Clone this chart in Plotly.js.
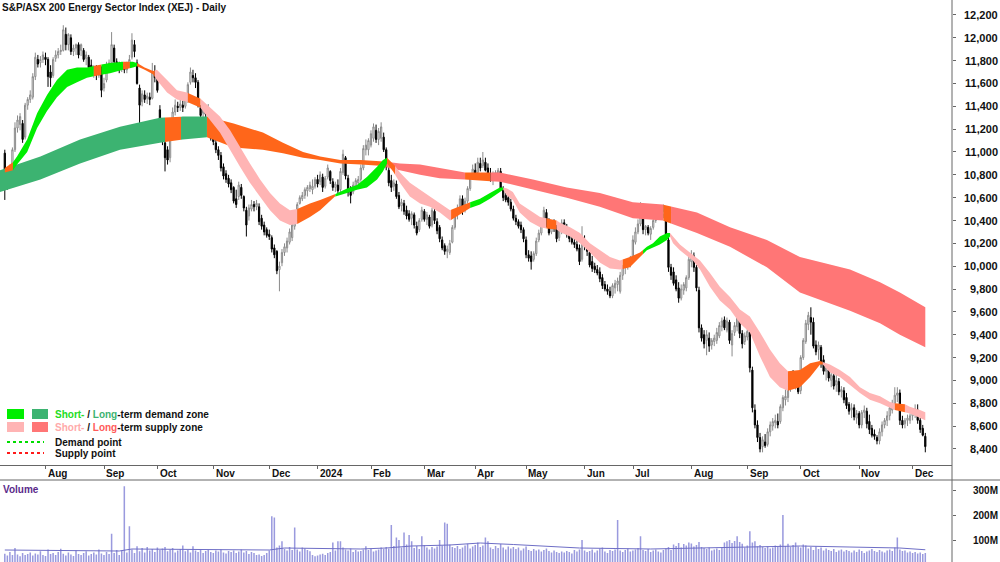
<!DOCTYPE html>
<html><head><meta charset="utf-8">
<script src="https://cdn.plot.ly/plotly-3.0.1.min.js"></script>
<style>html,body{margin:0;padding:0;background:#fff}#chart{width:1000px;height:562px}</style>
</head><body><div id="chart"></div>
<script>
// ---------- DATA ----------
const title = 'S&P/ASX 200 Energy Sector Index (XEJ) - Daily';
const startDate = '2023-07-07';
const holidays = ['2023-12-25','2023-12-26','2024-01-01','2024-01-26','2024-03-29','2024-04-01','2024-04-25','2024-06-10'];
const monthKeys = ['2023-08','2023-09','2023-10','2023-11','2023-12','2024-01','2024-02','2024-03','2024-04','2024-05','2024-06','2024-07','2024-08','2024-09','2024-10','2024-11','2024-12'];
const monthLabels = ['Aug','Sep','Oct','Nov','Dec','2024','Feb','Mar','Apr','May','Jun','Jul','Aug','Sep','Oct','Nov','Dec'];
const priceTicks = [12200,12000,11800,11600,11400,11200,11000,10800,10600,10400,10200,10000,9800,9600,9400,9200,9000,8800,8600,8400];
const volTicks = [100e6,200e6,300e6];
const volTickLabels = ['100M','200M','300M'];

const open = [
10990,10820,10710,10830,11020,11210,11240,11250,11130,11410,
11460,11480,11660,11810,11780,11810,11830,11810,11700,11670,
11820,11850,11880,11890,12030,11940,12000,11880,11910,11940,
11890,11890,11820,11830,11760,11720,11720,11670,11740,11560,
11630,11760,11780,11910,11790,11760,11740,11750,11720,11760,
11830,11940,11780,11560,11440,11500,11470,11480,11470,11700,
11670,11370,11190,11080,11020,10950,11170,11350,11400,11390,
11410,11400,11460,11610,11670,11650,11610,11390,11340,11360,
11330,11300,11180,11080,11020,10970,10870,10810,10770,10730,
10690,10590,10610,10690,10610,10490,10440,10500,10540,10520,
10520,10420,10360,10320,10280,10250,10160,10130,9970,10030,
10120,10160,10210,10250,10350,10400,10550,10590,10620,10660,
10680,10670,10700,10760,10740,10780,10700,10780,10830,10740,
10690,10710,10670,10820,10950,10770,10670,10650,10700,10730,
10760,10860,11020,11020,11060,11120,11190,11110,11120,11130,
11020,10840,10750,10700,10720,10620,10530,10550,10490,10460,
10420,10450,10350,10320,10410,10480,10410,10430,10360,10480,
10390,10340,10230,10180,10130,10120,10210,10340,10450,10510,
10590,10490,10570,10680,10770,10840,10820,10900,10880,10910,
10860,10810,10760,10790,10780,10830,10680,10620,10600,10560,
10500,10420,10390,10360,10320,10230,10100,10090,10060,10110,
10230,10290,10400,10470,10390,10300,10350,10340,10250,10310,
10380,10340,10280,10240,10210,10190,10160,10060,10230,10180,
10120,10040,10000,9970,9950,9900,9840,9800,9780,9740,
9810,9840,9780,9920,9990,10000,10020,10080,10210,10300,
10370,10460,10320,10340,10280,10340,10400,10460,10480,10450,
10430,10230,9990,9950,9880,9810,9720,9790,9810,9900,
10040,10090,9990,9790,9460,9400,9350,9370,9310,9340,
9350,9390,9470,9530,9440,9510,9310,9420,9470,9530,
9410,9340,9380,9420,9090,8740,8610,8500,8420,8460,
8440,8550,8600,8630,8640,8640,8760,8830,8850,8930,
9020,8970,9040,8910,9200,9340,9490,9550,9510,9310,
9270,9290,9180,9080,9090,9000,9040,8960,8990,8900,
8910,8850,8790,8740,8760,8670,8710,8610,8720,8730,
8640,8580,8530,8500,8470,8550,8610,8650,8690,8740,
8800,8870,8890,8650,8620,8650,8650,8690,8710,8740,
8650,8580,8510];
const high = [
11020,10860,10890,11040,11260,11320,11340,11280,11430,11480,
11540,11690,11870,11850,11840,11880,11870,11830,11760,11830,
11890,11910,11940,12110,12090,12040,12030,11940,11950,11960,
11950,11910,11880,11850,11810,11760,11760,11760,11750,11650,
11790,11810,12050,11940,11820,11790,11790,11780,11790,11850,
12040,11980,11810,11590,11540,11540,11520,11520,11780,11760,
11700,11410,11240,11110,11050,11190,11390,11460,11440,11460,
11450,11480,11610,11740,11720,11690,11630,11410,11400,11390,
11420,11320,11210,11110,11050,11000,10900,10840,10800,10760,
10700,10670,10740,10720,10620,10520,10540,10580,10570,10580,
10550,10450,10390,10340,10320,10270,10190,10140,10040,10150,
10200,10250,10330,10390,10460,10560,10620,10650,10690,10710,
10740,10760,10780,10800,10830,10810,10790,10890,10840,10770,
10740,10760,10860,11020,10965,10800,10700,10740,10770,10790,
10890,11060,11110,11120,11190,11250,11240,11210,11260,11170,
11040,10890,10800,10760,10750,10650,10590,10580,10530,10490,
10480,10470,10390,10420,10520,10500,10475,10450,10510,10500,
10420,10360,10260,10200,10180,10230,10360,10480,10540,10620,
10620,10600,10700,10800,10890,10900,10950,10950,11000,10950,
10900,10860,10830,10840,10860,10860,10700,10640,10630,10590,
10530,10450,10410,10390,10340,10260,10140,10130,10130,10250,
10320,10420,10520,10500,10420,10390,10410,10360,10340,10410,
10410,10370,10320,10270,10250,10230,10190,10350,10270,10210,
10140,10090,10030,10010,9990,9930,9870,9840,9820,9850,
9880,9900,9950,10010,10040,10060,10090,10270,10340,10410,
10560,10490,10360,10360,10350,10420,10490,10510,10520,10540,
10470,10260,10020,9990,9920,9860,9840,9860,9920,10100,
10140,10120,10010,9820,9490,9440,9440,9420,9370,9400,
9460,9510,9550,9560,9550,9530,9440,9510,9640,9560,
9440,9420,9460,9450,9120,8790,8650,8540,8510,8530,
8580,8640,8670,8700,8710,8790,8870,8920,8970,9080,
9090,9060,9080,9220,9370,9530,9600,9640,9550,9350,
9340,9310,9220,9140,9130,9080,9080,9050,9020,8950,
8940,8890,8810,8800,8790,8740,8730,8740,8780,8760,
8700,8610,8570,8520,8580,8640,8670,8730,8790,8830,
8940,8940,8920,8690,8670,8700,8710,8740,8790,8790,
8670,8610,8540];
const low = [
10580,10670,10690,10800,11000,11170,11190,11080,11110,11370,
11430,11460,11630,11740,11740,11780,11760,11570,11570,11650,
11790,11820,11850,11880,11890,11890,11850,11840,11850,11820,
11840,11790,11760,11720,11670,11650,11630,11650,11480,11530,
11610,11720,11740,11760,11720,11690,11700,11690,11690,11740,
11810,11830,11590,11220,11400,11430,11420,11410,11460,11610,
11520,11120,11060,10830,10890,10910,11140,11320,11350,11360,
11350,11380,11430,11590,11610,11560,11390,11300,11300,11300,
11280,11100,11060,10990,10930,10830,10760,10730,10690,10640,
10550,10510,10580,10590,10480,10260,10400,10480,10480,10490,
10360,10320,10270,10250,10230,10120,10070,9930,9780,10000,
10090,10120,10190,10220,10320,10380,10540,10570,10590,10610,
10650,10630,10680,10690,10710,10650,10680,10760,10720,10660,
10650,10630,10650,10800,10760,10610,10550,10630,10670,10690,
10740,10840,10970,10970,11040,11090,11080,11060,11090,11000,
10840,10700,10650,10660,10590,10500,10480,10450,10410,10390,
10360,10330,10270,10300,10390,10390,10360,10330,10340,10370,
10280,10210,10140,10100,10070,10100,10200,10320,10410,10480,
10450,10470,10550,10660,10760,10770,10800,10830,10860,10830,
10770,10740,10710,10760,10770,10660,10570,10560,10530,10480,
10400,10360,10330,10290,10210,10070,10040,9970,10040,10090,
10210,10270,10370,10340,10270,10280,10300,10210,10220,10280,
10290,10250,10210,10190,10160,10130,10010,10040,10140,10090,
9990,9950,9940,9920,9860,9800,9780,9750,9720,9720,
9760,9780,9760,9880,9930,9970,9990,10060,10190,10280,
10350,10280,10270,10270,10230,10320,10380,10410,10420,10420,
10250,9950,9880,9830,9780,9680,9700,9750,9780,9880,
9990,9950,9780,9420,9340,9280,9220,9250,9270,9300,
9320,9370,9430,9440,9420,9320,9210,9390,9430,9370,
9280,9310,9350,9070,8720,8580,8460,8370,8370,8410,
8420,8510,8560,8580,8580,8620,8730,8780,8810,8900,
8930,8920,8880,8880,9180,9320,9440,9400,9280,9220,
9180,9110,9050,9000,8990,8940,8920,8900,8870,8850,
8800,8750,8700,8670,8650,8620,8580,8580,8670,8580,
8530,8500,8480,8440,8440,8510,8580,8600,8650,8710,
8790,8810,8610,8580,8580,8600,8620,8650,8670,8620,
8540,8510,8370];
const close = [
10820,10710,10830,11020,11210,11280,11310,11110,11410,11460,
11500,11660,11830,11770,11810,11850,11810,11660,11650,11810,
11850,11880,11890,12070,11940,12030,11880,11910,11940,11850,
11940,11810,11850,11740,11720,11740,11700,11740,11540,11600,
11760,11780,11940,11790,11750,11720,11760,11720,11740,11810,
11980,11880,11600,11410,11510,11460,11490,11460,11700,11650,
11540,11150,11110,10950,10930,11150,11350,11410,11390,11420,
11390,11460,11590,11700,11650,11610,11410,11320,11370,11330,
11390,11120,11090,11020,10970,10860,10790,10760,10720,10670,
10570,10540,10710,10620,10510,10360,10510,10540,10520,10550,
10390,10350,10300,10270,10260,10150,10100,9960,10000,10120,
10170,10220,10300,10360,10420,10540,10600,10620,10670,10690,
10710,10700,10760,10720,10800,10690,10770,10860,10750,10690,
10720,10660,10830,10980,10790,10650,10620,10710,10750,10760,
10860,11030,11060,11100,11160,11220,11110,11180,11220,11020,
10870,10730,10690,10730,10610,10520,10560,10480,10440,10410,
10460,10360,10290,10400,10490,10410,10450,10350,10490,10400,
10310,10240,10160,10130,10150,10200,10340,10440,10510,10590,
10480,10570,10680,10770,10850,10810,10910,10860,10930,10840,
10800,10770,10790,10820,10840,10680,10600,10580,10560,10500,
10420,10390,10350,10320,10240,10100,10070,10040,10110,10220,
10290,10400,10490,10360,10290,10360,10340,10240,10310,10380,
10320,10280,10240,10210,10190,10150,10040,10240,10180,10130,
10010,9980,9970,9940,9890,9830,9800,9780,9740,9830,
9850,9870,9920,9990,10010,10030,10070,10230,10300,10370,
10470,10320,10350,10290,10330,10400,10460,10490,10450,10490,
10280,9990,9920,9850,9800,9720,9800,9840,9900,10060,
10100,9990,9810,9460,9370,9320,9400,9300,9350,9370,
9420,9480,9520,9460,9520,9350,9410,9480,9560,9410,
9320,9390,9430,9110,8760,8610,8500,8400,8480,8430,
8550,8610,8640,8650,8610,8770,8850,8860,8940,9040,
8960,9020,8900,9200,9350,9500,9570,9510,9300,9250,
9310,9160,9080,9110,9020,9050,8950,9000,8900,8920,
8830,8780,8730,8760,8680,8710,8610,8720,8740,8620,
8570,8520,8510,8470,8550,8610,8650,8690,8760,8800,
8870,8890,8650,8610,8650,8670,8690,8720,8750,8650,
8570,8520,8420];
// volume in millions of units
const volumeM = [
45,38,52,40,68,42,35,48,40,44,
50,38,46,42,55,40,36,62,44,48,
40,52,65,45,38,50,42,36,58,44,
40,48,55,38,44,50,42,62,46,40,
52,44,125,48,60,40,58,315,50,155,
62,48,75,55,68,50,72,58,64,52,
70,60,66,72,55,62,68,50,58,64,
78,55,60,50,75,58,52,64,48,56,
60,52,48,58,54,62,50,46,56,52,
58,48,54,62,50,56,44,52,48,40,
42,36,40,48,58,195,190,70,78,95,
65,58,72,60,150,62,54,70,66,60,
55,40,35,38,42,45,40,48,52,90,
58,95,95,70,62,58,66,52,60,54,
56,62,75,60,66,54,58,62,70,64,
72,66,160,76,110,100,70,130,82,120,
95,68,76,64,115,80,70,62,72,66,
74,100,78,170,165,82,72,68,76,64,
70,78,85,66,74,80,90,72,78,110,
95,70,64,76,68,84,70,62,74,66,
72,64,70,58,66,74,60,56,64,58,
62,54,60,66,56,50,58,52,48,54,
50,56,52,46,60,54,62,100,58,52,
56,62,50,58,66,70,54,48,60,56,
62,180,58,52,60,66,54,58,62,68,
115,60,56,64,52,58,62,54,50,60,
66,72,60,82,76,88,70,84,78,90,
86,74,80,92,72,68,64,70,58,62,
66,60,72,90,95,100,88,96,115,92,
85,70,78,135,90,95,75,80,72,68,
74,66,70,78,72,82,200,76,85,72,
80,90,74,70,82,78,66,72,60,74,
64,70,58,66,60,56,64,52,58,62,
54,60,56,50,58,52,62,56,48,54,
58,64,56,52,60,54,50,58,62,56,
70,110,62,56,58,50,54,48,52,46,
50,44,48];
// volume moving average, read at sample positions (bar index, millions)
const volMaIdx = [0,35,45,50,70,90,104,110,125,140,150,160,175,187,200,215,226,240,254,273,293,313,332,352,362];
const volMaM   = [60,58,56,64,63,62,60,68,66,64,68,76,80,88,82,74,68,66,64,68,72,76,72,68,61];

// Long-term zone (upper / lower edge, read at bar index positions)
const ltIdx = [-1.9,14,29.6,45.3,61,70,79.5,90,101.5,109.4,117.3,124,132,140,147.5,155.4,163.3,171,180,187,194.7,207.7,221,234,247,258.8,272.2,285.2,299.7,312.7,332.4,344.2,352,362];
const ltUp  = [10840,10960,11110,11220,11300,11310,11310,11250,11170,11080,11000,10960,10930,10930,10920,10900,10890,10860,10820,10820,10820,10760,10690,10640,10560,10540,10470,10340,10230,10080,9970,9860,9770,9640];
const ltLo  = [10650,10760,10900,11020,11080,11110,11130,11040,11020,10990,10950,10930,10900,10890,10880,10840,10800,10770,10760,10750,10740,10670,10600,10520,10420,10400,10290,10170,9990,9770,9610,9500,9400,9290];
const ltStates = [[-1.9,63,'demand'],[63,69.3,'mixed'],[69.3,79.5,'demand'],[79.5,150,'mixed'],[150,181,'supply'],[181,191,'mixed'],[191,259,'supply'],[259,262,'mixed'],[262,362,'supply']];

// Short-term zone
const stIdx = [0,3.2,4.8,8.8,12.7,16.6,20.5,24.5,28.4,32.3,36.3,41.4,46.5,50.4,52,55,58.3,59.8,63.8,67.7,71.6,76.8,80.7,84.6,88.6,92.5,96.4,100.4,104.3,108.2,112.1,115,120,124,129.8,134.6,138.5,142.4,146.4,148.7,150.3,152.7,155.4,159.3,163.3,167.2,171.1,175.1,176.2,180.2,183,186.9,190.8,194.7,196,197.5,199.8,202.5,206.5,210.5,213.2,217.1,218.3,222.3,226.2,230.1,234.1,238,241.9,245.8,249.8,252.5,254.9,257.6,260.4,261.6,262.8,265.5,268.3,270.6,273.4,277.3,281.2,285.2,289.1,293,297,300.9,304.8,308,312.7,316.7,320.6,321.7,324.5,328.4,332.4,336.3,340.2,344.2,348.1,350,354,355.9,359.9,362];
const stUp  = [10860,10910,10960,11110,11340,11500,11630,11720,11740,11740,11760,11780,11790,11790,11780,11740,11710,11720,11630,11540,11520,11470,11390,11310,11190,11040,10900,10760,10640,10550,10490,10500,10550,10580,10630,10680,10710,10780,10870,10930,10950,10900,10820,10730,10670,10610,10550,10490,10500,10540,10560,10590,10640,10690,10690,10680,10650,10550,10490,10430,10420,10400,10380,10340,10290,10200,10140,10080,10050,10080,10120,10170,10200,10260,10290,10290,10260,10190,10140,10100,10050,9940,9820,9730,9620,9560,9420,9270,9150,9080,9090,9150,9170,9160,9140,9090,9030,8940,8890,8860,8810,8800,8790,8770,8740,8720];
const stLo  = [10820,10840,10890,11000,11210,11360,11480,11570,11610,11650,11670,11690,11720,11740,11750,11720,11680,11630,11520,11460,11440,11390,11280,11170,11020,10870,10730,10610,10490,10400,10360,10370,10430,10490,10610,10640,10670,10690,10760,10830,10900,10830,10730,10610,10550,10520,10470,10400,10410,10470,10510,10540,10590,10650,10670,10620,10580,10470,10390,10340,10330,10320,10300,10260,10200,10120,10030,9980,9970,9990,10080,10140,10160,10190,10230,10260,10200,10140,10090,10050,9970,9820,9700,9620,9500,9420,9210,9030,8940,8910,8940,9030,9140,9140,9070,9030,8960,8890,8830,8800,8760,8740,8720,8710,8670,8650];
const stStates = [[0,3.2,'mixed'],[3.2,35,'demand'],[35,38,'mixed'],[38,46.5,'demand'],[46.5,49.2,'mixed'],[49.2,52,'demand'],[52,59,'mixed'],[59,72,'supply'],[72,77,'mixed'],[77,115,'supply'],[115,130,'mixed'],[130,150.3,'demand'],[150.3,153.5,'mixed'],[153.5,175.5,'supply'],[175.5,183,'mixed'],[183,196,'demand'],[196,213,'supply'],[213,217,'mixed'],[217,243,'supply'],[243,251,'mixed'],[251,261.6,'demand'],[261.6,308,'supply'],[308,321.7,'mixed'],[321.7,350,'supply'],[350,354,'mixed'],[354,362,'supply']];

// ---------- STYLE ----------
const C = {
  stDemand:'#00ee00', ltDemand:'#3cb371',
  stSupply:'#ffb4b4', ltSupply:'#ff7676',
  mixed:'#ff661a',
  up:'#8a8a8a', down:'#000000',
  vol:'#9a9ade', volMa:'#6e6ec6',
  axis:'#666666', text:'#111111', volLabel:'#5a2a8a'
};
const W = 952, H = 562, PRICE_BOTTOM = 465, VOL_TOP = 480;
const X = px => px / W;
const Y = py => 1 - py / H;

// ---------- TRADING DAYS ----------
function tradingDays(start, n) {
  const out = [];
  const d = new Date(start + 'T00:00:00Z');
  while (out.length < n) {
    const dow = d.getUTCDay();
    const s = d.toISOString().slice(0, 10);
    if (dow !== 0 && dow !== 6 && holidays.indexOf(s) < 0) out.push(s);
    d.setUTCDate(d.getUTCDate() + 1);
  }
  return out;
}
const dates = tradingDays(startDate, close.length);
const idx = dates.map((_, k) => k);
const monthTickIdx = monthKeys.map(m => dates.findIndex(d => d.indexOf(m) === 0) - 0.9);

// ---------- ZONES ----------
function interp(xs, ys, t) {
  if (t <= xs[0]) return ys[0];
  for (let k = 0; k < xs.length - 1; k++) {
    if (t >= xs[k] && t <= xs[k + 1]) {
      const f = (t - xs[k]) / (xs[k + 1] - xs[k]);
      return ys[k] + f * (ys[k + 1] - ys[k]);
    }
  }
  return ys[ys.length - 1];
}
function band(xs, up, lo, s, e, color) {
  const px = [s], pu = [interp(xs, up, s)], pl = [interp(xs, lo, s)];
  xs.forEach((x, k) => { if (x > s && x < e) { px.push(x); pu.push(up[k]); pl.push(lo[k]); } });
  px.push(e); pu.push(interp(xs, up, e)); pl.push(interp(xs, lo, e));
  return {
    type: 'scatter', mode: 'lines',
    x: px.concat(px.slice().reverse()),
    y: pu.concat(pl.slice().reverse()),
    fill: 'toself', fillcolor: color, line: { width: 0, color: color },
    hoverinfo: 'skip', showlegend: false, xaxis: 'x', yaxis: 'y'
  };
}
const ltColor = { demand: C.ltDemand, supply: C.ltSupply, mixed: C.mixed };
const stColor = { demand: C.stDemand, supply: C.stSupply, mixed: C.mixed };
const traces = [];
ltStates.forEach(s => traces.push(band(ltIdx, ltUp, ltLo, s[0], s[1], ltColor[s[2]])));
stStates.forEach(s => traces.push(band(stIdx, stUp, stLo, s[0], s[1], stColor[s[2]])));

// ---------- CANDLES ----------
traces.push({
  type: 'candlestick', x: idx, open: open, high: high, low: low, close: close,
  xaxis: 'x', yaxis: 'y',
  increasing: { line: { color: C.up, width: 1 }, fillcolor: '#ffffff' },
  decreasing: { line: { color: C.down, width: 1 }, fillcolor: C.down },
  whiskerwidth: 0, hoverinfo: 'skip', showlegend: false
});

// ---------- VOLUME ----------
traces.push({
  type: 'bar', x: idx, y: volumeM.map(v => v * 1e6), xaxis: 'x2', yaxis: 'y2',
  marker: { color: C.vol, line: { width: 0 } }, width: 0.6, hoverinfo: 'skip', showlegend: false
});
traces.push({
  type: 'scatter', mode: 'lines', x: volMaIdx, y: volMaM.map(v => v * 1e6), xaxis: 'x2', yaxis: 'y2',
  line: { color: C.volMa, width: 1 }, hoverinfo: 'skip', showlegend: false
});

// ---------- ANNOTATIONS ----------
const ann = [];
const bold = t => '<b>' + t + '</b>';
ann.push({ xref: 'paper', yref: 'paper', x: X(0), y: Y(7), xanchor: 'left', yanchor: 'middle',
  text: bold(title.replace('&', '&amp;')), showarrow: false, font: { size: 10, color: C.text } });
ann.push({ xref: 'paper', yref: 'paper', x: X(1), y: Y(489), xanchor: 'left', yanchor: 'middle',
  text: bold('Volume'), showarrow: false, font: { size: 10, color: C.volLabel } });
priceTicks.forEach(v => ann.push({ xref: 'paper', yref: 'y', x: X(1000), y: v, xanchor: 'right', yanchor: 'middle',
  text: bold(v.toLocaleString('en-US')), showarrow: false, font: { size: 11, color: C.text } }));
volTicks.forEach((v, k) => ann.push({ xref: 'paper', yref: 'y2', x: X(1000), y: v, xanchor: 'right', yanchor: 'middle',
  text: bold(volTickLabels[k]), showarrow: false, font: { size: 10, color: C.text } }));
monthTickIdx.forEach((t, k) => ann.push({ xref: 'x', yref: 'paper', x: t, y: Y(473), xanchor: 'left', yanchor: 'middle',
  text: bold(monthLabels[k]), showarrow: false, font: { size: 10, color: C.text } }));

// legend
const legendRows = [
  { y: 414, text: '<span style="color:#22dd22">Short-</span> / <span style="color:#3cb371">Long</span>-term demand zone' },
  { y: 427, text: '<span style="color:#ffaaaa">Short-</span> / <span style="color:#ff5a5a">Long</span>-term supply zone' },
  { y: 442, text: 'Demand point' },
  { y: 453, text: 'Supply point' }
];
legendRows.forEach(r => ann.push({ xref: 'paper', yref: 'paper', x: X(53), y: Y(r.y), xanchor: 'left', yanchor: 'middle',
  text: bold(r.text), showarrow: false, font: { size: 10, color: C.text } }));

const shapes = [
  { type: 'line', xref: 'paper', yref: 'paper', x0: 1, x1: 1, y0: 0, y1: 1, line: { color: C.axis, width: 1 } },
  { type: 'line', xref: 'paper', yref: 'paper', x0: 0, x1: X(1000), y0: Y(VOL_TOP), y1: Y(VOL_TOP), line: { color: C.axis, width: 1 } },
  { type: 'rect', xref: 'paper', yref: 'paper', x0: X(7), x1: X(24), y0: Y(419), y1: Y(409), fillcolor: C.stDemand, line: { width: 0 } },
  { type: 'rect', xref: 'paper', yref: 'paper', x0: X(32), x1: X(48), y0: Y(419), y1: Y(409), fillcolor: C.ltDemand, line: { width: 0 } },
  { type: 'rect', xref: 'paper', yref: 'paper', x0: X(7), x1: X(24), y0: Y(432), y1: Y(422), fillcolor: C.stSupply, line: { width: 0 } },
  { type: 'rect', xref: 'paper', yref: 'paper', x0: X(32), x1: X(48), y0: Y(432), y1: Y(422), fillcolor: C.ltSupply, line: { width: 0 } },
  { type: 'line', xref: 'paper', yref: 'paper', x0: X(7), x1: X(44), y0: Y(442), y1: Y(442), line: { color: '#00dd00', width: 2, dash: 'dot' } },
  { type: 'line', xref: 'paper', yref: 'paper', x0: X(7), x1: X(44), y0: Y(453), y1: Y(453), line: { color: '#ff1a1a', width: 2, dash: 'dot' } }
];

const xr = [-1.89, 372.5];
const layout = {
  width: 1000, height: 562,
  margin: { l: 0, r: 48, t: 0, b: 0, pad: 0 },
  paper_bgcolor: '#ffffff', plot_bgcolor: '#ffffff',
  font: { family: 'Liberation Sans, Arial, sans-serif', size: 10, color: C.text },
  showlegend: false, hovermode: false, dragmode: false,
  xaxis: { domain: [0, 1], range: xr, anchor: 'y', tickvals: monthTickIdx, ticks: 'outside', ticklen: 3,
    tickcolor: C.axis, showticklabels: false, showline: true, linecolor: C.axis, linewidth: 1,
    showgrid: false, zeroline: false, rangeslider: { visible: false }, fixedrange: true },
  yaxis: { domain: [Y(PRICE_BOTTOM), 1], range: [8259, 12331], side: 'right', anchor: 'x', tickvals: priceTicks,
    ticks: 'outside', ticklen: 3, tickcolor: C.axis, showticklabels: false, showgrid: false, zeroline: false,
    showline: false, fixedrange: true },
  xaxis2: { domain: [0, 1], range: xr, anchor: 'y2', showticklabels: false, ticks: '', showline: false,
    showgrid: false, zeroline: false, fixedrange: true },
  yaxis2: { domain: [0, Y(VOL_TOP)], range: [12e6, 340e6], side: 'right', anchor: 'x2', tickvals: volTicks,
    ticks: 'outside', ticklen: 3, tickcolor: C.axis, showticklabels: false, showgrid: false, zeroline: false,
    showline: false, fixedrange: true },
  shapes: shapes, annotations: ann
};
Plotly.newPlot('chart', traces, layout, { staticPlot: true, displayModeBar: false });
</script>
</body></html>
